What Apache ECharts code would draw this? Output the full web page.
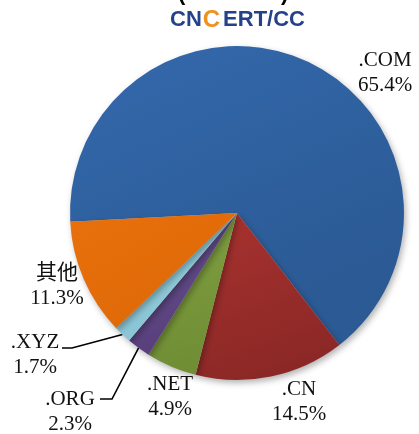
<!DOCTYPE html>
<html>
<head>
<meta charset="utf-8">
<script src="https://cdn.jsdelivr.net/npm/echarts@6/dist/echarts.min.js"></script>
<style>
    html, body { margin: 0; padding: 0; background: #fff; }
    #chart { width: 419px; height: 434px; }
</style>
</head>
<body>
<div id="chart"></div>
<script>
var categories = ['.COM', '.CN', '.NET', '.ORG', '.XYZ', '其他'];
var shares = [65.4, 14.5, 4.9, 2.3, 1.7, 11.3];
var sliceColors = [
    ['#3469ad', '#2b5a94'],
    ['#a8322f', '#8b2826'],
    ['#80a040', '#6f8d34'],
    ['#65508c', '#583f7c'],
    ['#96d0df', '#88c4d4'],
    ['#e8700c', '#e06a08']
];

// where each label block sits (center), and the elbow of the leader lines
var labelSpots = [[385, 73], [299, 402], [170, 397], [70, 412], [35, 355], [57, 286]];
var elbows = [null, null, null, [[112, 399], [100, 399]], [[72, 348], [62, 348]], null];

var dom = document.getElementById('chart');
var myChart = echarts.init(dom);

var pieData = categories.map(function (name, i) {
    return {
        name: name,
        value: shares[i],
        itemStyle: {
            color: {
                type: 'linear', x: 0, y: 0, x2: 0.4, y2: 1,
                colorStops: [
                    { offset: 0, color: sliceColors[i][0] },
                    { offset: 1, color: sliceColors[i][1] }
                ]
            }
        },
        labelLine: { show: elbows[i] != null }
    };
});

var option = {
    backgroundColor: '#fff',
    animation: false,
    graphic: [
        {
            type: 'text', left: 178, top: -17,
            style: { text: '(', font: 'bold 22px "Liberation Sans"', fill: '#000' }
        },
        {
            type: 'text', left: 281, top: -17,
            style: { text: ')', font: 'bold 22px "Liberation Sans"', fill: '#000' }
        },
        {
            type: 'text', left: 170, top: 8,
            style: {
                text: '{a|CN}{b|C}{a|ERT/CC}',
                rich: {
                    a: { fontFamily: 'Liberation Sans', fontWeight: 'bold', fontSize: 22, fill: '#25418a' },
                    b: { fontFamily: 'Liberation Sans', fontWeight: 'bold', fontSize: 24, fill: '#f0901e', padding: [0, 3, 0, 1] }
                }
            }
        }
    ],
    series: [
        {
            type: 'pie',
            center: [237, 213],
            radius: 167,
            startAngle: 183,
            clockwise: true,
            data: pieData,
            itemStyle: {
                shadowBlur: 6,
                shadowOffsetX: 2,
                shadowOffsetY: 3,
                shadowColor: 'rgba(0,0,0,0.3)'
            },
            label: {
                show: true,
                position: 'outside',
                formatter: '{b}\n{c}%',
                fontFamily: '"Liberation Serif", "Noto Sans CJK SC"',
                fontSize: 21,
                lineHeight: 25,
                color: '#111',
                align: 'center',
                overflow: 'none',
                width: 120
            },
            labelLine: {
                lineStyle: { color: '#000', width: 1.6 }
            },
            labelLayout: function (params) {
                var i = params.dataIndex;
                var res = {
                    x: labelSpots[i][0],
                    y: labelSpots[i][1],
                    align: 'center',
                    verticalAlign: 'middle'
                };
                if (elbows[i] && params.labelLinePoints) {
                    res.labelLinePoints = [params.labelLinePoints[0], elbows[i][0], elbows[i][1]];
                }
                return res;
            },
            emphasis: { disabled: true }
        }
    ]
};

if (option && typeof option === "object") {
    myChart.setOption(option, true);
}
</script>
</body>
</html>
